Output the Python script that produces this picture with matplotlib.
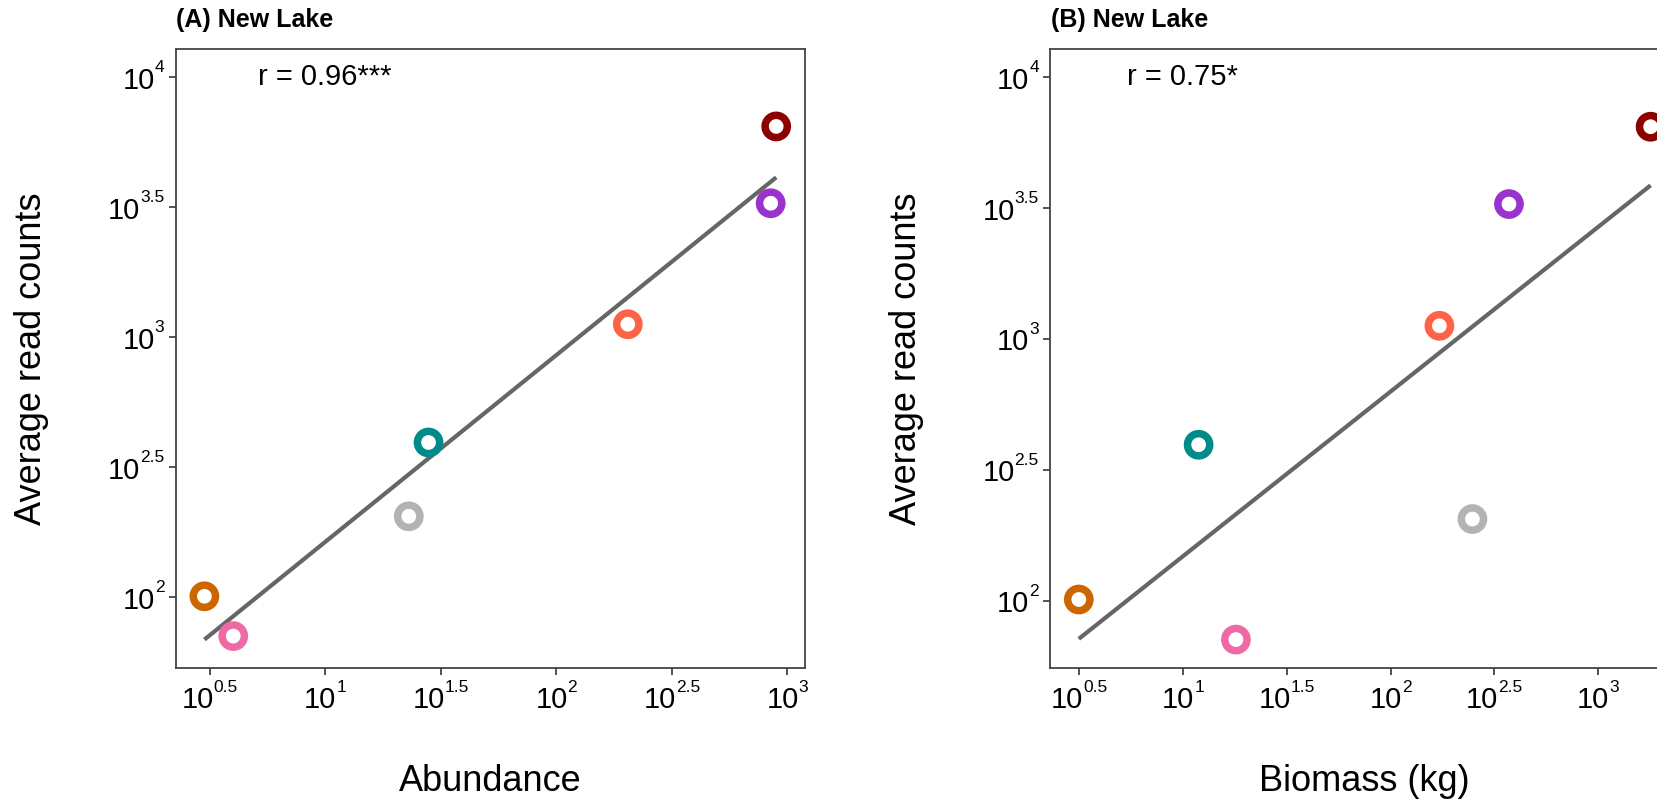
import numpy as np
import matplotlib
matplotlib.use("Agg")
import matplotlib.pyplot as plt
from matplotlib.transforms import IdentityTransform

# ---------------- data ----------------
point_colors = ["#CD6600", "#EE6AA7", "#B3B3B3", "#008B8B", "#FF6347", "#9A32CD", "#8B0000"]
read_counts = [101, 71, 205, 394, 1122, 3274, 6464]
abundance = [3, 4, 23, 28, 204, 847, 895]
biomass_kg = [3.15, 18.0, 248, 11.9, 172, 372, 1790]

panel_titles = ["(A) New Lake", "(B) New Lake"]
x_titles = ["Abundance", "Biomass (kg)"]
r_labels = ["r = 0.96***", "r = 0.75*"]
y_title = "Average read counts"

tick_base = "10"
x_tick_exps = ["0.5", "1", "1.5", "2", "2.5", "3"]
y_tick_exps = ["2", "2.5", "3", "3.5", "4"]
label_pos = (10, 10000)  # position of r annotation (data units)

# ---------------- style ----------------
plt.rcParams["font.family"] = ["Liberation Sans", "DejaVu Sans"]

W, H = 1658, 802
fig = plt.figure(figsize=(W / 100, H / 100), dpi=100)
fig.patch.set_facecolor("white")

ax_w = 629 / W
ax_h = (667.7 - 49) / H
ax_b = (H - 667.7) / H
lefts = [175.8 / W, 1050.2 / W]

BASE_FS, EXP_FS = 21, 12.5
TICK_LEN_PT = 5

def expand(lo, hi, f=0.05):
    d = hi - lo
    return lo - f * d, hi + f * d

axes = []
for i, xs in enumerate([abundance, biomass_kg]):
    ax = fig.add_axes([lefts[i], ax_b, ax_w, ax_h])
    lx = np.log10(xs)
    ly = np.log10(read_counts)
    slope, icpt = np.polyfit(lx, ly, 1)
    fx = np.array([lx.min(), lx.max()])
    fy = slope * fx + icpt

    ax.set_xscale("log")
    ax.set_yscale("log")
    ax.plot(10 ** fx, 10 ** fy, color="#666666", lw=3.0, solid_capstyle="butt", zorder=2)
    ax.scatter(xs, read_counts, s=16.0 ** 2, facecolors="white", edgecolors=point_colors,
               linewidths=5.4, zorder=3)
    ax.text(label_pos[0], label_pos[1], r_labels[i], ha="center", va="center", fontsize=21,
            color="black", zorder=4)

    xlo, xhi = expand(min(lx.min(), np.log10(label_pos[0])), lx.max())
    ylo, yhi = expand(min(ly.min(), fy.min()), max(ly.max(), fy.max(), np.log10(label_pos[1])))
    ax.set_xlim(10 ** xlo, 10 ** xhi)
    ax.set_ylim(10 ** ylo, 10 ** yhi)

    ax.set_xticks([10 ** float(e) for e in x_tick_exps])
    ax.set_yticks([10 ** float(e) for e in y_tick_exps])
    ax.set_xticklabels([])
    ax.set_yticklabels([])
    ax.minorticks_off()
    ax.tick_params(axis="both", which="major", length=TICK_LEN_PT, width=1.3, color="#444444")
    for sp in ax.spines.values():
        sp.set_color("#444444")
        sp.set_linewidth(1.3)

    cx = lefts[i] + ax_w / 2
    fig.text(lefts[i] + 0.5 / W, (H - 27.5) / H, panel_titles[i], fontsize=18, fontweight="bold",
             ha="left", va="baseline")
    fig.text(cx, (H - 791) / H, x_titles[i], fontsize=26, ha="center", va="baseline")
    fig.text((32 + (lefts[i] - lefts[0]) * W) / W, ax_b + ax_h / 2, y_title, fontsize=26,
             rotation=90, ha="center", va="center")
    axes.append(ax)

# ---- tick labels as base + superscript (plotmath style) ----
fig.canvas.draw()
renderer = fig.canvas.get_renderer()

def text_width(s, size):
    t = fig.text(0, 0, s, fontsize=size)
    w = t.get_window_extent(renderer).width
    t.remove()
    return w

wb = text_width(tick_base, BASE_FS)
SUP_RAISE = 16.6   # px, exponent baseline above base baseline
tick_px = TICK_LEN_PT * 100 / 72

for ax in axes:
    x0, x1 = ax.get_xlim()
    y0, y1 = ax.get_ylim()
    for e in x_tick_exps:
        px, py = ax.transData.transform((10 ** float(e), y0))
        we = text_width(e, EXP_FS)
        start = px - (wb + we) / 2
        base_y = py - 40.5
        fig.text(start, base_y, tick_base, fontsize=BASE_FS, ha="left", va="baseline",
                 transform=IdentityTransform())
        fig.text(start + wb, base_y + SUP_RAISE, e, fontsize=EXP_FS, ha="left", va="baseline",
                 transform=IdentityTransform())
    for e in y_tick_exps:
        px, py = ax.transData.transform((x0, 10 ** float(e)))
        we = text_width(e, EXP_FS)
        right = px - tick_px - 4.5
        base_y = py - 11.5
        fig.text(right, base_y + SUP_RAISE, e, fontsize=EXP_FS, ha="right", va="baseline",
                 transform=IdentityTransform())
        fig.text(right - we, base_y, tick_base, fontsize=BASE_FS, ha="right", va="baseline",
                 transform=IdentityTransform())

fig.savefig("out.png", dpi=100)
